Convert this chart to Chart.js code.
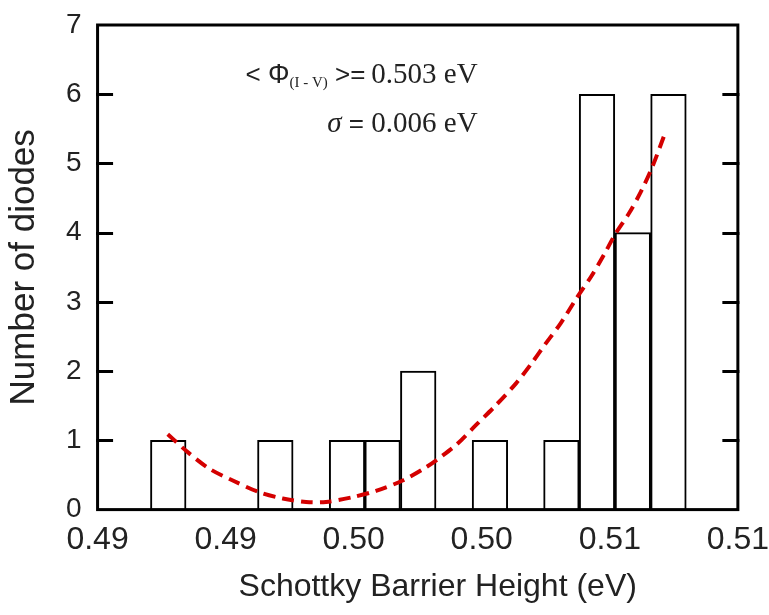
<!DOCTYPE html>
<html>
<head>
<meta charset="utf-8">
<script src="https://cdn.jsdelivr.net/npm/chart.js@4/dist/chart.umd.min.js"></script>
<style>
  html, body { margin: 0; padding: 0; background: #fff; }
  #wrap { width: 769px; height: 615px; }
</style>
</head>
<body>
<div id="wrap"><canvas id="c" width="769" height="615"></canvas></div>
<script>
// Histogram bins (centre of each bin, eV) and number of diodes in each
const binCenters = [0.48776, 0.48915, 0.49055, 0.49194, 0.49334, 0.49474, 0.49613, 0.49752,
                    0.49892, 0.50032, 0.50171, 0.50311, 0.50450, 0.50590, 0.50729];
const diodeCounts = [1, 0, 0, 1, 0, 1, 1, 2, 0, 1, 0, 1, 6, 4, 6];

// Fitted distribution curve (dashed red)
const fitX = [0.48774, 0.48852, 0.48937, 0.49028, 0.49132, 0.49223, 0.49314, 0.49392,
              0.49496, 0.49587, 0.49691, 0.49782, 0.49847, 0.49905, 0.49977, 0.50048,
              0.50133, 0.50198, 0.50250, 0.50308, 0.50373, 0.50426, 0.50477, 0.50523,
              0.50575, 0.50621, 0.50666, 0.50711];
const fitY = [1.09, 0.83, 0.59, 0.42, 0.25, 0.16, 0.11, 0.11,
              0.18, 0.27, 0.42, 0.61, 0.78, 0.95, 1.22, 1.48,
              1.82, 2.13, 2.40, 2.69, 3.07, 3.36, 3.68, 3.99,
              4.28, 4.59, 4.95, 5.39];

// Axis ticks
const xTickValues = [0.485, 0.490, 0.495, 0.500, 0.505, 0.510];
const xTickLabels = ['0.49', '0.49', '0.50', '0.50', '0.51', '0.51'];
const yTickValues = [0, 1, 2, 3, 4, 5, 6, 7];

const SANS = '"Liberation Sans", Arial, sans-serif';
const SERIF = '"Liberation Serif", "Times New Roman", serif';
const INK = '#222';

// White page, boxed frame and inward y ticks on both sides
const framePlugin = {
  id: 'frame',
  beforeDraw(chart) {
    const ctx = chart.ctx;
    ctx.save();
    ctx.fillStyle = '#fff';
    ctx.fillRect(0, 0, chart.width, chart.height);
    ctx.restore();
  },
  afterDatasetsDraw(chart) {
    const { ctx, chartArea: a } = chart;
    const y = chart.scales.y;
    ctx.save();
    ctx.strokeStyle = '#000';
    ctx.lineWidth = 3;
    ctx.lineCap = 'square';
    ctx.strokeRect(a.left, a.top, a.right - a.left, a.bottom - a.top);
    ctx.beginPath();
    yTickValues.forEach(v => {
      if (v === 0 || v === 7) return;
      const py = Math.round(y.getPixelForValue(v)) + 0.5;
      ctx.moveTo(a.left, py); ctx.lineTo(a.left + 14, py);
      ctx.moveTo(a.right, py); ctx.lineTo(a.right - 14, py);
    });
    ctx.stroke();
    ctx.restore();
  }
};

// Statistics text and x-axis title
function drawRun(ctx, segs, right, base) {
  let total = 0;
  segs.forEach(s => { ctx.font = s.font; s.w = ctx.measureText(s.t).width; total += s.w; });
  let x = right - total;
  segs.forEach(s => {
    ctx.font = s.font;
    ctx.fillText(s.t, x, base + (s.dy || 0));
    x += s.w;
  });
}
const textPlugin = {
  id: 'texts',
  afterDraw(chart) {
    const { ctx, chartArea: a } = chart;
    ctx.save();
    ctx.fillStyle = INK;
    ctx.textBaseline = 'alphabetic';
    ctx.textAlign = 'left';
    const right = a.left + 380;
    drawRun(ctx, [
      { t: '< ', font: '26px ' + SANS },
      { t: 'Φ', font: '27px ' + SANS },
      { t: '(I - V)', font: '15px ' + SERIF, dy: 4 },
      { t: ' >=', font: '26px ' + SANS },
      { t: '\u2009', font: '29px ' + SERIF },
      { t: '0.503 eV', font: '29px ' + SERIF }
    ], right, a.top + 58);
    drawRun(ctx, [
      { t: 'σ', font: 'italic 29px ' + SERIF },
      { t: ' = ', font: '26px ' + SANS },
      { t: '0.006 eV', font: '29px ' + SERIF }
    ], right, a.top + 107);

    ctx.font = '32px ' + SANS;
    ctx.textAlign = 'center';
    ctx.fillText('Schottky Barrier Height (eV)', (a.left + a.right) / 2 + 20, a.bottom + 86);
    ctx.restore();
  }
};

new Chart(document.getElementById('c'), {
  data: {
    datasets: [
      {
        type: 'line',
        order: 0,
        data: fitX.map((x, i) => ({ x, y: fitY[i] })),
        borderColor: '#d40000',
        borderWidth: 4,
        borderDash: [12, 7],
        pointRadius: 0,
        tension: 0.3,
        fill: false
      },
      {
        type: 'bar',
        order: 1,
        data: binCenters.map((x, i) => ({ x, y: diodeCounts[i] })),
        backgroundColor: '#fff',
        borderColor: '#000',
        borderWidth: 2,
        barPercentage: 1,
        categoryPercentage: 1
      }
    ]
  },
  options: {
    responsive: false,
    animation: false,
    devicePixelRatio: 1,
    layout: { padding: { top: 25, right: 0, left: 0, bottom: 56 } },
    plugins: { legend: { display: false }, tooltip: { enabled: false } },
    scales: {
      x: {
        type: 'linear',
        offset: false,
        min: 0.485,
        max: 0.510,
        afterBuildTicks: axis => { axis.ticks = xTickValues.map(v => ({ value: v })); },
        grid: { display: true, drawOnChartArea: false, drawTicks: true, tickLength: 11, color: 'transparent' },
        border: { display: false },
        ticks: {
          autoSkip: false,
          maxRotation: 0,
          padding: 0,
          color: INK,
          font: { family: SANS, size: 32, lineHeight: 1.2 },
          callback: (v, i) => xTickLabels[i]
        }
      },
      y: {
        min: 0,
        max: 7,
        afterBuildTicks: axis => { axis.ticks = yTickValues.map(v => ({ value: v })); },
        grid: { display: true, drawOnChartArea: false, drawTicks: true, tickLength: 16, color: 'transparent' },
        border: { display: false },
        ticks: {
          padding: 0,
          color: INK,
          font: { family: SANS, size: 28, lineHeight: 1.2 }
        },
        title: {
          display: true,
          text: 'Number of diodes',
          color: INK,
          font: { family: SANS, size: 35, lineHeight: 1.2 },
          padding: { top: 3, bottom: 21 }
        }
      }
    }
  },
  plugins: [framePlugin, textPlugin]
});
</script>
</body>
</html>
